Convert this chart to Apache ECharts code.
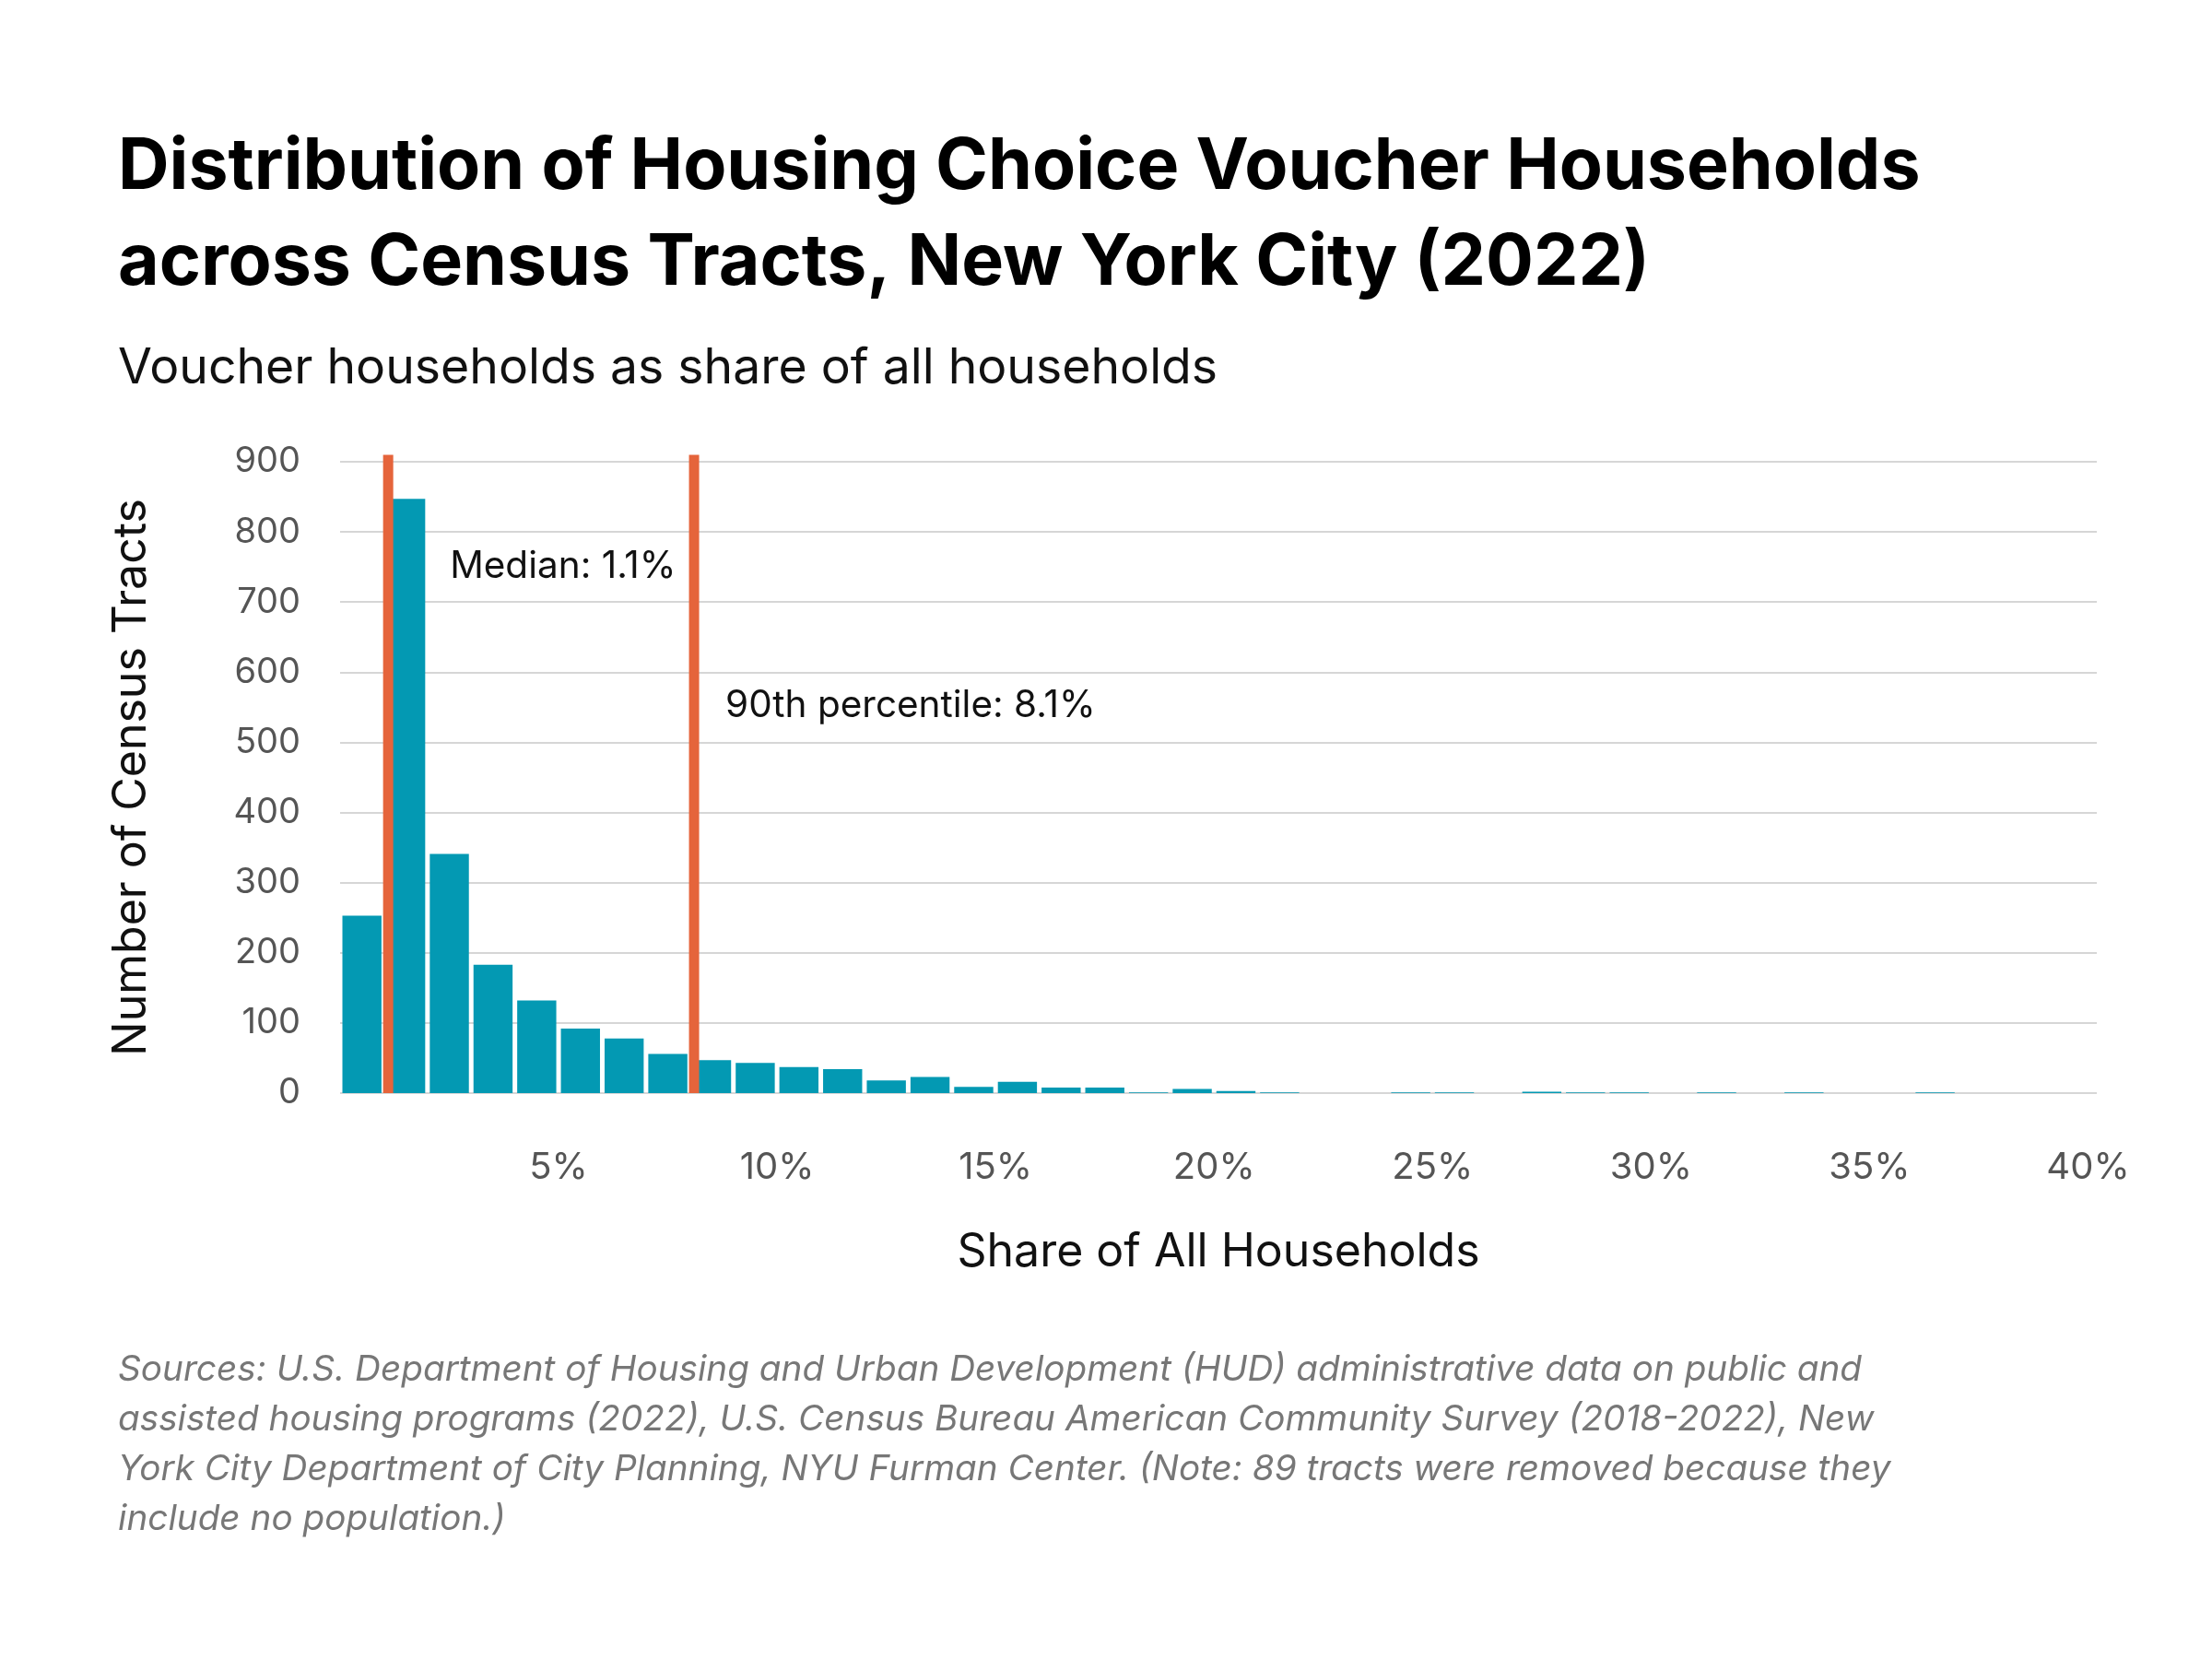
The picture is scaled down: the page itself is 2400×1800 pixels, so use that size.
<!DOCTYPE html>
<html>
<head>
<meta charset="utf-8">
<title>Housing Choice Voucher Households</title>
<script src="https://cdn.jsdelivr.net/npm/echarts@6/dist/echarts.min.js"></script>
<style>
  html, body { margin: 0; padding: 0; background: #fff; }
  #chart { width: 2400px; height: 1800px; }
</style>
</head>
<body>
<div id="chart"></div>
<script>
// histogram bins: share of households (%), 1-point wide
var binStarts = [0, 1, 2, 3, 4, 5, 6, 7, 8, 9, 10, 11, 12, 13, 14, 15, 16, 17, 18, 19,
                 20, 21, 22, 23, 24, 25, 26, 27, 28, 29, 30, 31, 32, 33, 34, 35, 36, 37, 38, 39];
var binEnds   = [1, 2, 3, 4, 5, 6, 7, 8, 9, 10, 11, 12, 13, 14, 15, 16, 17, 18, 19, 20,
                 21, 22, 23, 24, 25, 26, 27, 28, 29, 30, 31, 32, 33, 34, 35, 36, 37, 38, 39, 40];
// number of census tracts in each bin
var tractCounts = [253, 847, 341, 183, 132, 92, 78, 56, 47, 43, 37, 34, 18, 23, 9, 16, 8, 8, 1, 6,
                   3, 1, 0, 0, 1, 1, 0, 2, 1, 1, 0, 1, 0, 1, 0, 0, 1, 0, 0, 0];
// reference lines
var markerValues = [1.1, 8.1];
var markerLabels = ['Median: 1.1%', '90th percentile: 8.1%'];
// axis ticks
var yTicks = [0, 100, 200, 300, 400, 500, 600, 700, 800, 900];
var xTicks = [0, 5, 10, 15, 20, 25, 30, 35, 40];

var TEAL = '#0399b3';
var ORANGE = '#e5643b';
var FONT = 'Inter, "Open Sans", sans-serif';

var chart = echarts.init(document.getElementById('chart'));

var barData = binStarts.map(function (s, i) {
  return [s, binEnds[i], tractCounts[i]];
});
var markerData = markerValues.map(function (v) {
  return [v];
});

// label offsets (px) from the foot of each line
var labelOffsets = [[67, -571], [34, -420]];

function renderBar(params, api) {
  var n = api.value(2);
  if (!n) return;
  var top = api.coord([api.value(0), n]);
  var bottom = api.coord([api.value(1), 0]);
  var gap = 5;
  return {
    type: 'rect',
    shape: {
      x: top[0] + gap / 2,
      y: top[1],
      width: bottom[0] - top[0] - gap,
      height: bottom[1] - top[1]
    },
    style: { fill: TEAL }
  };
}

function renderMarker(params, api) {
  var v = api.value(0);
  var base = api.coord([v, 0]);
  var top = api.coord([v, 910]);
  var off = labelOffsets[params.dataIndex];
  return {
    type: 'group',
    children: [
      {
        type: 'rect',
        shape: { x: base[0] - 5.5, y: top[1], width: 11, height: base[1] - top[1] },
        style: { fill: ORANGE }
      },
      {
        type: 'text',
        x: base[0] + off[0],
        y: base[1] + off[1],
        style: {
          text: markerLabels[params.dataIndex],
          fill: '#111',
          font: '40.5px ' + FONT,
          textVerticalAlign: 'middle'
        }
      }
    ]
  };
}

var option = {
  backgroundColor: '#fff',
  animation: false,
  textStyle: { fontFamily: FONT },
  title: [
    {
      text: 'Distribution of Housing Choice Voucher Households\nacross Census Tracts, New York City (2022)',
      left: 128,
      top: 130,
      padding: 0,
      textStyle: { fontSize: 77, fontWeight: 'bold', color: '#000', lineHeight: 104, fontFamily: FONT }
    },
    {
      text: 'Voucher households as share of all households',
      left: 128,
      top: 370,
      padding: 0,
      textStyle: { fontSize: 53.5, fontWeight: 'normal', color: '#111', lineHeight: 60, fontFamily: FONT }
    },
    {
      text: 'Sources: U.S. Department of Housing and Urban Development (HUD) administrative data on public and\n' +
            'assisted housing programs (2022), U.S. Census Bureau American Community Survey (2018-2022), New\n' +
            'York City Department of City Planning, NYU Furman Center. (Note: 89 tracts were removed because they\n' +
            'include no population.)',
      left: 128,
      top: 1459,
      padding: 0,
      textStyle: { fontSize: 38.7, fontWeight: 'normal', fontStyle: 'italic', color: '#777', lineHeight: 54, fontFamily: FONT }
    }
  ],
  grid: { left: 369, right: 125, top: 501, bottom: 614 },
  xAxis: {
    type: 'value',
    min: xTicks[0],
    max: 40.2,
    interval: 5,
    axisLine: { show: false },
    axisTick: { show: false },
    splitLine: { show: false },
    axisLabel: {
      margin: 61,
      fontSize: 40,
      color: '#555',
      fontFamily: FONT,
      showMaxLabel: false,
      formatter: function (v) {
        return (v === 0 || xTicks.indexOf(v) < 0) ? '' : v + '%';
      }
    },
    name: 'Share of All Households',
    nameLocation: 'middle',
    nameGap: 148,
    nameTextStyle: { fontSize: 50, color: '#111', fontFamily: FONT }
  },
  yAxis: {
    type: 'value',
    min: yTicks[0],
    max: yTicks[yTicks.length - 1],
    interval: 100,
    axisLine: { show: false },
    axisTick: { show: false },
    splitLine: { lineStyle: { color: '#d6d6d6', width: 2 } },
    axisLabel: { margin: 43, fontSize: 38, color: '#555', fontFamily: FONT },
    name: 'Number of Census Tracts',
    nameLocation: 'middle',
    nameRotate: 90,
    nameGap: 201,
    nameTextStyle: { fontSize: 50, color: '#111', fontFamily: FONT }
  },
  series: [
    {
      type: 'custom',
      name: 'tracts',
      renderItem: renderBar,
      encode: { x: [0, 1], y: 2 },
      data: barData
    },
    {
      type: 'custom',
      name: 'markers',
      renderItem: renderMarker,
      clip: false,
      encode: { x: 0 },
      data: markerData,
      z: 5
    }
  ]
};

chart.setOption(option);
</script>
</body>
</html>
